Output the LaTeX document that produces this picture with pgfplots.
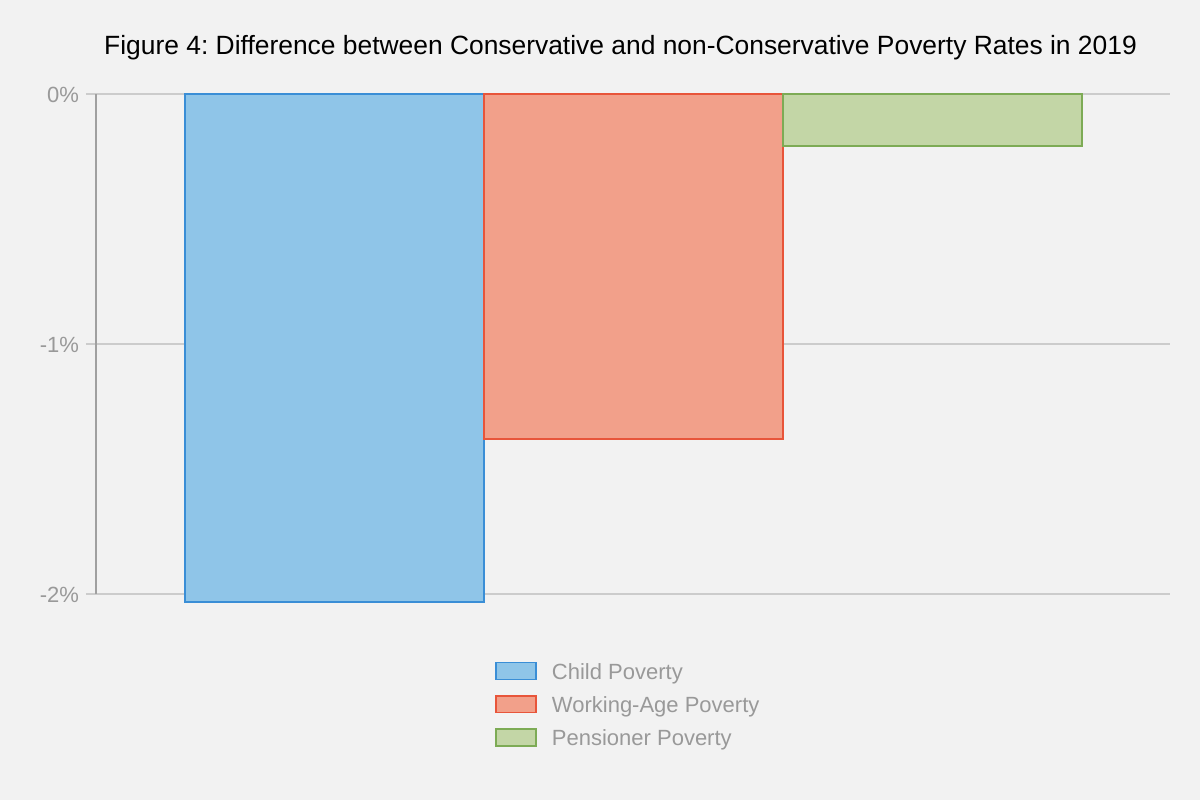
\documentclass[border=0pt]{standalone}
\usepackage{pgfplots}
\pgfplotsset{compat=1.18}
\usepackage{fontspec}
\setmainfont{Liberation Sans}
\frenchspacing

\definecolor{bg}{HTML}{F2F2F2}
\definecolor{gridgray}{HTML}{CCCCCC}
\definecolor{axisgray}{HTML}{A0A0A0}
\definecolor{labelgray}{HTML}{999999}
\definecolor{bluefill}{HTML}{8FC5E8}
\definecolor{blueline}{HTML}{3A8ED6}
\definecolor{redfill}{HTML}{F2A08A}
\definecolor{redline}{HTML}{E8553A}
\definecolor{greenfill}{HTML}{C3D6A6}
\definecolor{greenline}{HTML}{7DAB55}

\begin{document}
\begin{tikzpicture}
\fill[bg] (0,0) rectangle (600pt,400pt);
\begin{axis}[
	at={(48pt,353pt)}, anchor=north west,
	scale only axis, width=537pt, height=250pt,
	clip=false,
	ybar,
	xmin=0.2023, xmax=3.7943,
	ymin=-2, ymax=0,
	axis x line=none, axis y line=left,
	y axis line style={-, draw=axisgray, line width=0.75pt},
	xtick=\empty,
	ytick={-2,-1,0},
	yticklabels={{-2\%},{-1\%},{0\%}},
	tick align=outside,
	major tick length=5pt,
	ytick style={draw=gridgray, line width=0.75pt},
	yticklabel style={font=\fontsize{11}{13}\selectfont, text=labelgray, yshift=-0.6pt},
	ymajorgrids,
	major grid style={draw=gridgray, line width=0.75pt},
	title={Figure 4: Difference between Conservative and non-Conservative Poverty Rates in 2019},
	title style={at={(0.4884,1)}, anchor=base, yshift=13.5pt, inner sep=0pt,
		font=\fontsize{13.2}{15}\selectfont},
	legend style={at={(0.3724,-0.122)}, anchor=north west, draw=none, fill=none,
		inner sep=0pt, outer sep=0pt, font=\fontsize{11}{13}\selectfont, text=labelgray,
		row sep=0pt, column sep=8pt,
		nodes={inner sep=0pt, text height=12pt, text depth=4.45pt}},
	legend cell align=left,
	every axis plot/.append style={bar width=1, bar shift=0pt, line width=0.9pt,
		legend image code/.code={
			\path[use as bounding box, draw=none, fill=none] (0pt,0pt) rectangle (20pt,8.4pt);
			\draw[##1, line width=0.75pt] (0pt,-3.75pt) rectangle (20pt,4.65pt);}},
	]
	\addplot[draw=blueline, fill=bluefill] coordinates {(1,-2.032)};
	\addlegendentry{Child Poverty}
	\addplot[draw=redline, fill=redfill] coordinates {(2,-1.38)};
	\addlegendentry{Working-Age Poverty}
	\addplot[draw=greenline, fill=greenfill] coordinates {(3,-0.208)};
	\addlegendentry{Pensioner Poverty}
\end{axis}
\end{tikzpicture}
\end{document}
